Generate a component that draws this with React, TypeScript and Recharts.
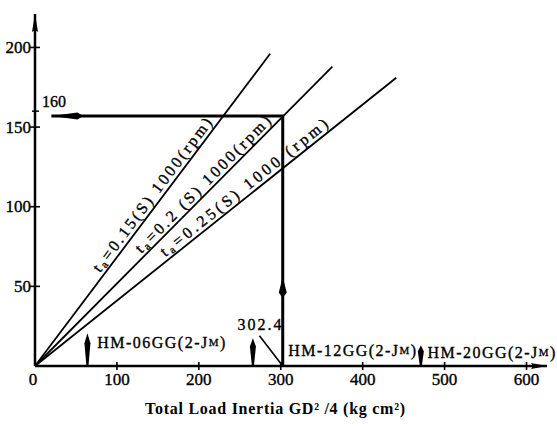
import React from "react";
import { ComposedChart, Line, Scatter, XAxis, YAxis } from "recharts";

// axis ticks
const xTicks = [0, 100, 200, 300, 400, 500, 600];
const yTicks = [50, 100, 150, 160, 200];

// acceleration lines (ta = 0.15 / 0.2 / 0.25 s, 1000 rpm)
const line015 = [
  { x: 0, y: 0 },
  { x: 287, y: 196 },
];
const line02 = [
  { x: 0, y: 0 },
  { x: 363, y: 188 },
];
const line025 = [
  { x: 0, y: 0 },
  { x: 441, y: 181 },
];

// worked example: load inertia 302.4 -> 160
const example = [
  { x: 302.4, y: 0 },
  { x: 302.4, y: 157 },
  { x: 20, y: 157 },
];
const leader = [
  { x: 274, y: 19 },
  { x: 302.4, y: 0 },
];

// arrow heads on the example path and the axes
const heads = [
  { x: 20, y: 157, dir: "left" },
  { x: 302.4, y: 56, dir: "up" },
  { x: 0, y: 221, dir: "axisUp" },
  { x: 625, y: 0, dir: "axisRight" },
];

// motor range markers on the x axis (tip height)
const markers = [
  { x: 64, y: 20.5 },
  { x: 266, y: 17.5 },
  { x: 471, y: 13 },
];

// line labels, anchored on each line
const lineLabels = [
  { x: 152, y: 104, ta: "0.15(S)", rpm: "1000(rpm)", end: 287, rise: 196, len: 188 },
  { x: 213, y: 110, ta: "0.2 (S)", rpm: "1000(rpm)", end: 363, rise: 188, len: 186 },
  { x: 262, y: 107.5, ta: "0.25(S)", rpm: "1000  (rpm)", end: 441, rise: 181, len: 210 },
];

const modelLabels = [
  { x: 76, y: 15, name: "HM-06GG" },
  { x: 309, y: 10, name: "HM-12GG" },
  { x: 479, y: 8.5, name: "HM-20GG" },
];

const valueLabels = [{ x: 274, y: 26, text: "302.4" }];

const W = 557;
const H = 427;
const MARGIN = { top: 14, right: 10, left: 5, bottom: 11 };
const Y_W = 30;
const X_H = 50;
const X_MAX = 625;
const Y_MAX = 220;
const PX_X = (W - MARGIN.left - MARGIN.right - Y_W) / X_MAX;
const PX_Y = (H - MARGIN.top - MARGIN.bottom - X_H) / Y_MAX;

const FONT = '"Liberation Serif", "DejaVu Serif", "Times New Roman", serif';
// the scan's type is heavy, thicken it a little
const INK = { fill: "#000", stroke: "#000", strokeWidth: 0.35 };

const YTick = (props: any) => {
  const { x, y, payload } = props;
  const v = payload.value;
  if (v === 160) {
    return (
      <g>
        <line x1={x - 3} x2={x + 4} y1={y} y2={y} stroke="#000" strokeWidth={1.5} />
        <text x={x + 7} y={y - 10} fontFamily={FONT} fontSize={16} dominantBaseline="central" {...INK}>
          160
        </text>
      </g>
    );
  }
  return (
    <g>
      <line x1={x - 5} x2={x + 5} y1={y} y2={y} stroke="#000" strokeWidth={1.6} />
      <text
        x={x - 4}
        y={y}
        textAnchor="end"
        dominantBaseline="central"
        fontFamily={FONT}
        fontSize={17}
        {...INK}
      >
        {v}
      </text>
    </g>
  );
};

const XTick = (props: any) => {
  const { x, y, payload } = props;
  const v = payload.value;
  return (
    <g>
      {v !== 0 && <line x1={x} x2={x} y1={y - 4} y2={y + 4} stroke="#000" strokeWidth={1.6} />}
      <text
        x={v === 0 ? x - 2 : x}
        y={y + 13}
        textAnchor="middle"
        dominantBaseline="central"
        fontFamily={FONT}
        fontSize={17}
        {...INK}
      >
        {v}
      </text>
    </g>
  );
};

const Head = (props: any) => {
  const { cx, cy, payload } = props;
  let pts = "";
  if (payload.dir === "left") {
    pts = `${cx},${cy} ${cx + 26},${cy - 3.5} ${cx + 32},${cy} ${cx + 26},${cy + 3.5}`;
  } else if (payload.dir === "up") {
    pts = `${cx},${cy} ${cx + 4},${cy + 16} ${cx},${cy + 21} ${cx - 4},${cy + 16}`;
  } else if (payload.dir === "axisUp") {
    pts = `${cx},${cy} ${cx + 3},${cy + 18} ${cx},${cy + 16} ${cx - 3},${cy + 18}`;
  } else {
    pts = `${cx},${cy} ${cx - 16},${cy - 3} ${cx - 14},${cy} ${cx - 16},${cy + 3}`;
  }
  return <polygon points={pts} fill="#000" />;
};

const Marker = (props: any) => {
  const { cx, cy, payload } = props;
  const len = payload.y * PX_Y;
  const pts = `${cx},${cy} ${cx + 3},${cy + len * 0.3} ${cx + 1},${cy + len} ${cx - 1},${cy + len} ${cx - 3},${cy + len * 0.3}`;
  return <polygon points={pts} fill="#000" />;
};

const LineLabel = (props: any) => {
  const { cx, cy, payload } = props;
  const angle = (-Math.atan2(payload.rise * PX_Y, payload.end * PX_X) * 180) / Math.PI;
  return (
    <g transform={`rotate(${angle} ${cx} ${cy})`}>
      <text
        x={cx}
        y={cy - 4}
        textAnchor="middle"
        fontFamily={FONT}
        fontSize={16}
        textLength={payload.len}
        lengthAdjust="spacing"
        {...INK}
      >
        t
        <tspan fontSize={11} dy={2}>
          a
        </tspan>
        <tspan dy={-2}>{`=${payload.ta} ${payload.rpm}`}</tspan>
      </text>
    </g>
  );
};

const ModelLabel = (props: any) => {
  const { cx, cy, payload } = props;
  return (
    <text
      x={cx}
      y={cy}
      dominantBaseline="central"
      fontFamily={FONT}
      fontSize={16}
      textLength={128}
      lengthAdjust="spacing"
      {...INK}
    >
      {`${payload.name}(2-J`}
      <tspan fontSize={11}>M</tspan>
      <tspan>)</tspan>
    </text>
  );
};

const ValueLabel = (props: any) => {
  const { cx, cy, payload } = props;
  return (
    <text
      x={cx}
      y={cy}
      textAnchor="middle"
      dominantBaseline="central"
      fontFamily={FONT}
      fontSize={16}
      textLength={44}
      lengthAdjust="spacing"
      {...INK}
    >
      {payload.text}
    </text>
  );
};

const Title = (props: any) => {
  const { viewBox } = props;
  return (
    <text
      x={viewBox.x + viewBox.width / 2 - 16}
      y={viewBox.y + 42}
      textAnchor="middle"
      dominantBaseline="central"
      fontFamily={FONT}
      fontSize={16}
      fontWeight="bold"
      textLength={260}
      lengthAdjust="spacing"
    >
      Total Load Inertia GD² /4 (kg  cm²)
    </text>
  );
};

export default function App() {
  return (
    <div style={{ position: "absolute", left: 0, top: 0, width: W, height: H, background: "#fff" }}>
      <ComposedChart width={W} height={H} margin={MARGIN}>
        <XAxis
          type="number"
          dataKey="x"
          domain={[0, X_MAX]}
          ticks={xTicks}
          interval={0}
          tickSize={0}
          tickMargin={0}
          tickLine={false}
          tick={<XTick />}
          height={X_H}
          axisLine={{ stroke: "#000", strokeWidth: 2.5 }}
          label={{ content: <Title /> }}
        />
        <YAxis
          type="number"
          dataKey="y"
          domain={[0, Y_MAX]}
          ticks={yTicks}
          interval={0}
          tickSize={0}
          tickMargin={0}
          tickLine={false}
          tick={<YTick />}
          width={Y_W}
          axisLine={{ stroke: "#000", strokeWidth: 2.5 }}
        />
        <Line data={line015} dataKey="y" stroke="#000" strokeWidth={1.8} dot={false} activeDot={false} isAnimationActive={false} />
        <Line data={line02} dataKey="y" stroke="#000" strokeWidth={1.8} dot={false} activeDot={false} isAnimationActive={false} />
        <Line data={line025} dataKey="y" stroke="#000" strokeWidth={1.8} dot={false} activeDot={false} isAnimationActive={false} />
        <Line data={example} dataKey="y" stroke="#000" strokeWidth={3} dot={false} activeDot={false} isAnimationActive={false} />
        <Line data={leader} dataKey="y" stroke="#000" strokeWidth={1.6} dot={false} activeDot={false} isAnimationActive={false} />
        <Scatter data={heads} shape={<Head />} isAnimationActive={false} />
        <Scatter data={markers} shape={<Marker />} isAnimationActive={false} />
        <Scatter data={lineLabels} shape={<LineLabel />} isAnimationActive={false} />
        <Scatter data={modelLabels} shape={<ModelLabel />} isAnimationActive={false} />
        <Scatter data={valueLabels} shape={<ValueLabel />} isAnimationActive={false} />
      </ComposedChart>
    </div>
  );
}
